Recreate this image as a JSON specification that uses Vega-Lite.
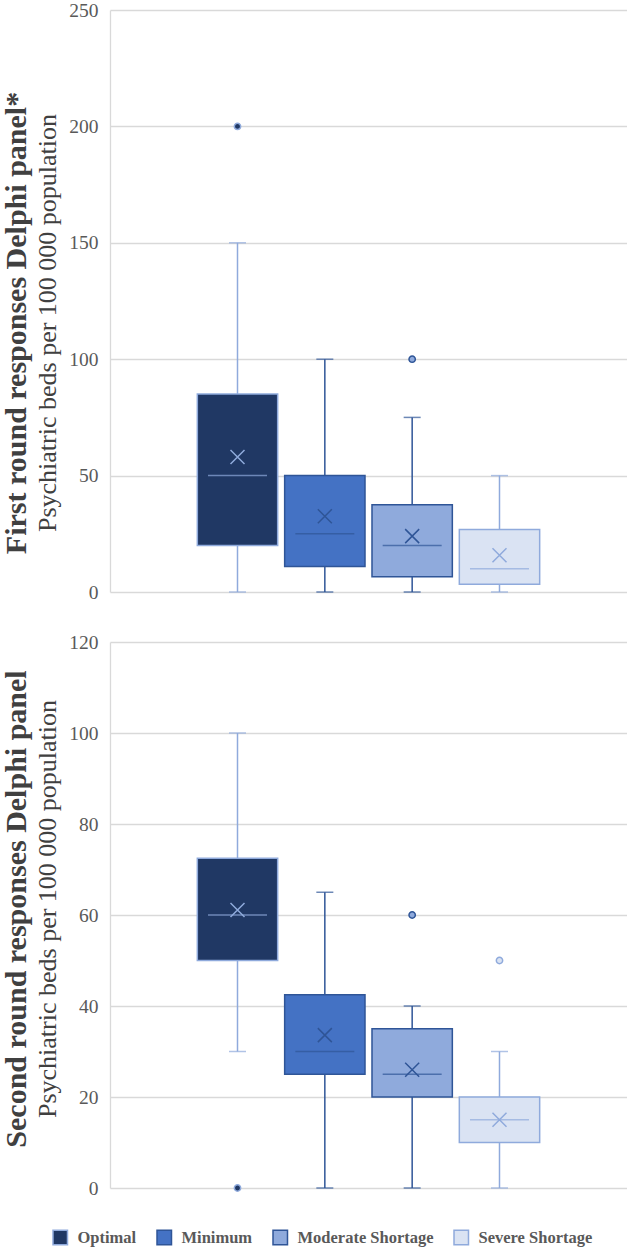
{
  "$schema": "https://vega.github.io/schema/vega-lite/v6.json",
  "padding": {"top": 0, "left": 1, "right": 0, "bottom": 0},
  "background": "white",
  "datasets": {
    "r1": [
      {"series": "Optimal", "lower": 0, "q1": 20, "median": 50, "q3": 85, "upper": 150, "mean": 58},
      {"series": "Minimum", "lower": 0, "q1": 11, "median": 25, "q3": 50, "upper": 100, "mean": 32.5},
      {"series": "Moderate Shortage", "lower": 0, "q1": 6.6, "median": 20, "q3": 37.5, "upper": 75, "mean": 24},
      {"series": "Severe Shortage", "lower": 0, "q1": 3.3, "median": 10, "q3": 26.8, "upper": 50, "mean": 15.8}
    ],
    "r1out": [
      {"series": "Optimal", "value": 200},
      {"series": "Moderate Shortage", "value": 100}
    ],
    "r2": [
      {"series": "Optimal", "lower": 30, "q1": 50, "median": 60, "q3": 72.5, "upper": 100, "mean": 61.1},
      {"series": "Minimum", "lower": 0, "q1": 25, "median": 30, "q3": 42.5, "upper": 65, "mean": 33.6},
      {"series": "Moderate Shortage", "lower": 0, "q1": 20, "median": 25, "q3": 35, "upper": 40, "mean": 26},
      {"series": "Severe Shortage", "lower": 0, "q1": 10, "median": 15, "q3": 20, "upper": 30, "mean": 15}
    ],
    "r2out": [
      {"series": "Optimal", "value": 0},
      {"series": "Moderate Shortage", "value": 60},
      {"series": "Severe Shortage", "value": 50}
    ]
  },
  "vconcat": [
    {
      "width": 517,
      "height": 582,
      "title": {"text": "First round responses Delphi panel*", "subtitle": "Psychiatric beds per 100 000 population", "dx": -22},
      "encoding": {
        "x": {"field": "series", "type": "nominal", "sort": ["Optimal", "Minimum", "Moderate Shortage", "Severe Shortage"], "scale": {"paddingInner": 0.08, "paddingOuter": 2}, "axis": null}
      },
      "layer": [
        {
          "data": {"name": "r1"},
          "mark": {"type": "rule", "strokeWidth": 1.5},
          "encoding": {
            "y": {"field": "lower", "type": "quantitative", "scale": {"domain": [0, 250], "nice": false}, "axis": {"values": [0, 50, 100, 150, 200, 250]}},
            "y2": {"field": "q1"},
            "color": {"field": "series", "type": "nominal", "legend": null, "scale": {"domain": ["Minimum", "Moderate Shortage", "Optimal", "Severe Shortage"], "range": ["#2F5597", "#2F5597", "#8FAADC", "#8FAADC"]}}
          }
        },
        {
          "data": {"name": "r1"},
          "mark": {"type": "rule", "strokeWidth": 1.5},
          "encoding": {
            "y": {"field": "q3", "type": "quantitative"},
            "y2": {"field": "upper"},
            "color": {"field": "series", "type": "nominal", "legend": null}
          }
        },
        {
          "data": {"name": "r1"},
          "mark": {"type": "tick", "size": 17, "thickness": 1.5},
          "encoding": {
            "y": {"field": "lower", "type": "quantitative"},
            "color": {"field": "series", "type": "nominal", "legend": null}
          }
        },
        {
          "data": {"name": "r1"},
          "mark": {"type": "tick", "size": 17, "thickness": 1.5},
          "encoding": {
            "y": {"field": "upper", "type": "quantitative"},
            "color": {"field": "series", "type": "nominal", "legend": null}
          }
        },
        {
          "data": {"name": "r1"},
          "mark": {"type": "bar", "strokeWidth": 1.5},
          "encoding": {
            "y": {"field": "q1", "type": "quantitative"},
            "y2": {"field": "q3"},
            "fill": {"field": "series", "type": "nominal", "scale": {"domain": ["Optimal", "Minimum", "Moderate Shortage", "Severe Shortage"], "range": ["#203864", "#4472C4", "#8FAADC", "#DAE3F3"]}},
            "stroke": {"field": "series", "type": "nominal", "scale": {"domain": ["Optimal", "Minimum", "Moderate Shortage", "Severe Shortage"], "range": ["#8FAADC", "#2F5597", "#2F5597", "#8FAADC"]}}
          }
        },
        {
          "data": {"name": "r1"},
          "mark": {"type": "tick", "size": 59, "thickness": 1.5},
          "encoding": {
            "y": {"field": "median", "type": "quantitative"},
            "color": {"field": "series", "type": "nominal", "legend": null}
          }
        },
        {
          "data": {"name": "r1"},
          "mark": {"type": "point", "shape": "M-1,-1L1,1M-1,1L1,-1", "filled": false, "size": 196, "strokeWidth": 1.5, "opacity": 1},
          "encoding": {
            "y": {"field": "mean", "type": "quantitative"},
            "color": {"field": "series", "type": "nominal", "legend": null}
          }
        },
        {
          "data": {"name": "r1out"},
          "mark": {"type": "point", "shape": "circle", "filled": true, "size": 40, "strokeWidth": 1.5, "opacity": 1},
          "encoding": {
            "y": {"field": "value", "type": "quantitative"},
            "fill": {"field": "series", "type": "nominal"},
            "stroke": {"field": "series", "type": "nominal"}
          }
        }
      ]
    },
    {
      "width": 517,
      "height": 546,
      "title": {"text": "Second round responses Delphi panel", "subtitle": "Psychiatric beds per 100 000 population", "dx": 6},
      "encoding": {
        "x": {"field": "series", "type": "nominal", "sort": ["Optimal", "Minimum", "Moderate Shortage", "Severe Shortage"], "scale": {"paddingInner": 0.08, "paddingOuter": 2}, "axis": null}
      },
      "layer": [
        {
          "data": {"name": "r2"},
          "mark": {"type": "rule", "strokeWidth": 1.5},
          "encoding": {
            "y": {"field": "lower", "type": "quantitative", "scale": {"domain": [0, 120], "nice": false}, "axis": {"values": [0, 20, 40, 60, 80, 100, 120]}},
            "y2": {"field": "q1"},
            "color": {"field": "series", "type": "nominal", "legend": null}
          }
        },
        {
          "data": {"name": "r2"},
          "mark": {"type": "rule", "strokeWidth": 1.5},
          "encoding": {
            "y": {"field": "q3", "type": "quantitative"},
            "y2": {"field": "upper"},
            "color": {"field": "series", "type": "nominal", "legend": null}
          }
        },
        {
          "data": {"name": "r2"},
          "mark": {"type": "tick", "size": 17, "thickness": 1.5},
          "encoding": {
            "y": {"field": "lower", "type": "quantitative"},
            "color": {"field": "series", "type": "nominal", "legend": null}
          }
        },
        {
          "data": {"name": "r2"},
          "mark": {"type": "tick", "size": 17, "thickness": 1.5},
          "encoding": {
            "y": {"field": "upper", "type": "quantitative"},
            "color": {"field": "series", "type": "nominal", "legend": null}
          }
        },
        {
          "data": {"name": "r2"},
          "mark": {"type": "bar", "strokeWidth": 1.5},
          "encoding": {
            "y": {"field": "q1", "type": "quantitative"},
            "y2": {"field": "q3"},
            "fill": {"field": "series", "type": "nominal"},
            "stroke": {"field": "series", "type": "nominal"}
          }
        },
        {
          "data": {"name": "r2"},
          "mark": {"type": "tick", "size": 59, "thickness": 1.5},
          "encoding": {
            "y": {"field": "median", "type": "quantitative"},
            "color": {"field": "series", "type": "nominal", "legend": null}
          }
        },
        {
          "data": {"name": "r2"},
          "mark": {"type": "point", "shape": "M-1,-1L1,1M-1,1L1,-1", "filled": false, "size": 196, "strokeWidth": 1.5, "opacity": 1},
          "encoding": {
            "y": {"field": "mean", "type": "quantitative"},
            "color": {"field": "series", "type": "nominal", "legend": null}
          }
        },
        {
          "data": {"name": "r2out"},
          "mark": {"type": "point", "shape": "circle", "filled": true, "size": 40, "strokeWidth": 1.5, "opacity": 1},
          "encoding": {
            "y": {"field": "value", "type": "quantitative"},
            "fill": {"field": "series", "type": "nominal"},
            "stroke": {"field": "series", "type": "nominal"}
          }
        }
      ]
    }
  ],
  "resolve": {"scale": {"x": "independent", "y": "independent", "fill": "shared", "stroke": "shared", "color": "shared"}},
  "spacing": 30,
  "config": {
    "font": "Liberation Serif",
    "view": {"stroke": null},
    "title": {
      "orient": "left",
      "anchor": "middle",
      "font": "Liberation Serif",
      "fontSize": 30,
      "fontWeight": "bold",
      "color": "#404040",
      "subtitleFont": "Liberation Serif",
      "subtitleFontSize": 26,
      "subtitleColor": "#404040",
      "subtitlePadding": 0,
      "offset": 8
    },
    "axisY": {
      "title": null,
      "labelFont": "Liberation Serif",
      "labelFontSize": 19.5,
      "labelColor": "#595959",
      "labelPadding": 12,
      "ticks": false,
      "domainColor": "#D9D9D9",
      "domainWidth": 1.3,
      "gridColor": "#D9D9D9",
      "gridWidth": 1.3
    },
    "legend": {
      "orient": "none",
      "legendX": -58,
      "legendY": 1219,
      "direction": "horizontal",
      "title": null,
      "symbolType": "square",
      "symbolSize": 210,
      "symbolStrokeWidth": 1.5,
      "labelFont": "Liberation Serif",
      "labelFontSize": 16.5,
      "labelFontWeight": "bold",
      "labelColor": "#595959",
      "columnPadding": 17,
      "labelOffset": 9
    }
  }
}
